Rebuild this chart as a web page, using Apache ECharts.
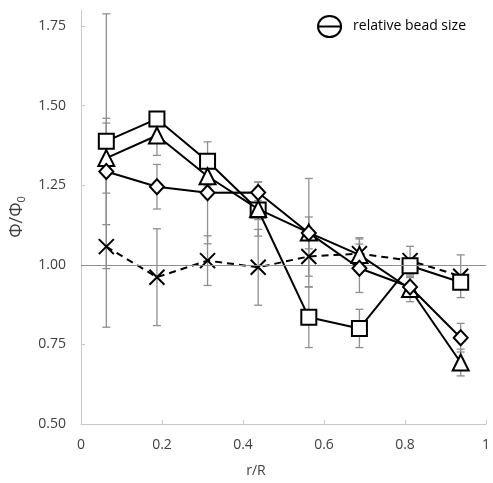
<!DOCTYPE html>
<html>
<head>
<meta charset="utf-8">
<script src="https://cdn.jsdelivr.net/npm/echarts@6/dist/echarts.min.js"></script>
<style>
  html, body { margin: 0; padding: 0; background: #fff; }
  #chart { width: 493px; height: 483px; }
</style>
</head>
<body>
<div id="chart"></div>
<script>
// radial positions (bin centres)
const radius = [0.0625, 0.1875, 0.3125, 0.4375, 0.5625, 0.6875, 0.8125, 0.9375];

// phi / phi0 per bead size
const squareVals   = [1.388, 1.458, 1.325, 1.172, 0.835, 0.800, 0.997, 0.945];
const triangleVals = [1.335, 1.406, 1.278, 1.175, 1.101, 1.031, 0.924, 0.693];
const diamondVals  = [1.293, 1.245, 1.226, 1.227, 1.100, 0.989, 0.930, 0.771];
const crossVals    = [1.057, 0.961, 1.013, 0.992, 1.026, 1.035, 1.013, 0.964];

// +/- error
const squareErr   = [0.40, 0.02, 0.02, 0.03, 0.095, 0.06, 0.02, 0.02];
const triangleErr = [0.11, 0.0625, 0.03, 0.085, 0.17, 0.05, 0.04, 0.042];
const diamondErr  = [0.167, 0.07, 0.16, 0.033, 0.05, 0.076, 0.03, 0.045];
const crossErr    = [0.253, 0.152, 0.078, 0.119, 0.062, 0.05, 0.045, 0.067];

const xTicks = [0, 0.2, 0.4, 0.6, 0.8, 1];
const yTicks = [0.5, 0.75, 1.0, 1.25, 1.5, 1.75];

const font = '"Open Sans", "DejaVu Sans", sans-serif';
const textColor = '#404040';

function pairs(vals) {
  return vals.map((v, i) => [radius[i], v]);
}
function errRows(vals, errs) {
  return vals.map((v, i) => [radius[i], v - errs[i], v + errs[i]]);
}

const errData = []
  .concat(errRows(squareVals, squareErr))
  .concat(errRows(triangleVals, triangleErr))
  .concat(errRows(diamondVals, diamondErr))
  .concat(errRows(crossVals, crossErr));

function renderErr(params, api) {
  const top = api.coord([api.value(0), api.value(2)]);
  const bot = api.coord([api.value(0), api.value(1)]);
  const cap = 4;
  const style = { stroke: '#8f8f8f', lineWidth: 1.3 };
  return {
    type: 'group',
    children: [
      { type: 'line', shape: { x1: top[0], y1: top[1], x2: bot[0], y2: bot[1] }, style: style },
      { type: 'line', shape: { x1: top[0] - cap, y1: top[1], x2: top[0] + cap, y2: top[1] }, style: style },
      { type: 'line', shape: { x1: bot[0] - cap, y1: bot[1], x2: bot[0] + cap, y2: bot[1] }, style: style }
    ]
  };
}

const markerStyle = { color: '#fff', borderColor: '#000', borderWidth: 2 };
const lineStyle = { color: '#000', width: 2 };

const chart = echarts.init(document.getElementById('chart'));

chart.setOption({
  animation: false,
  grid: { left: 81, right: 5, top: 10, bottom: 58 },
  legend: {
    left: 312,
    top: 10,
    itemWidth: 25,
    itemHeight: 21,
    selectedMode: false,
    textStyle: { fontFamily: font, fontSize: 14, color: '#000', padding: [0, 0, 0, 6] },
    itemStyle: { color: 'transparent', borderColor: '#000', borderWidth: 2 },
    data: [{
      name: 'relative bead size',
      icon: 'path://M0,10 A11,10 0 1,1 22,10 A11,10 0 1,1 0,10 Z M0,10 L22,10'
    }]
  },
  xAxis: {
    type: 'value',
    min: 0,
    max: 1,
    interval: 0.2,
    name: 'r/R',
    nameLocation: 'middle',
    nameGap: 40,
    nameTextStyle: { fontFamily: font, fontSize: 14, color: textColor, padding: [0, 55, 0, 0] },
    axisLine: { show: true, onZero: false, lineStyle: { color: '#c8c8c8', width: 1 } },
    axisTick: { show: true, inside: true, length: 4, lineStyle: { color: '#c8c8c8' } },
    axisLabel: {
      fontFamily: font, fontSize: 14, color: textColor, margin: 14,
      formatter: v => String(Math.round(v * 10) / 10)
    },
    splitLine: { show: false }
  },
  yAxis: {
    type: 'value',
    min: 0.5,
    max: 1.8,
    interval: 0.25,
    name: 'Φ/Φ{sub|0}',
    nameLocation: 'middle',
    nameGap: 54,
    nameRotate: 90,
    nameTextStyle: {
      fontFamily: font, fontSize: 18, color: textColor,
      rich: { sub: { fontFamily: font, fontSize: 11, color: textColor, padding: [9, 0, 0, 0] } }
    },
    axisLine: { show: true, lineStyle: { color: '#c8c8c8', width: 1 } },
    axisTick: { show: true, inside: true, length: 4, lineStyle: { color: '#c8c8c8' } },
    axisLabel: {
      fontFamily: font, fontSize: 14, color: textColor, margin: 15,
      showMaxLabel: false,
      formatter: v => yTicks.some(t => Math.abs(t - v) < 1e-6) ? v.toFixed(2) : ''
    },
    splitLine: { show: false }
  },
  series: [
    {
      type: 'custom',
      name: 'errors',
      renderItem: renderErr,
      data: errData,
      encode: { x: 0, y: [1, 2] },
      z: 1,
      silent: true
    },
    {
      type: 'line',
      name: 'unity',
      data: [],
      symbol: 'none',
      markLine: {
        silent: true,
        symbol: 'none',
        label: { show: false },
        lineStyle: { color: '#8f8f8f', width: 1.2, type: 'solid' },
        data: [{ yAxis: 1 }]
      },
      z: 1
    },
    {
      type: 'line',
      name: 'cross',
      data: pairs(crossVals),
      symbol: 'path://M0,0 L10,10 M10,0 L0,10',
      symbolSize: 15,
      itemStyle: { color: 'transparent', borderColor: '#000', borderWidth: 2 },
      lineStyle: { color: '#000', width: 2, type: [7, 5] },
      z: 3
    },
    {
      type: 'line',
      name: 'square',
      data: pairs(squareVals),
      symbol: 'rect',
      symbolSize: 15,
      itemStyle: markerStyle,
      lineStyle: lineStyle,
      z: 4
    },
    {
      type: 'line',
      name: 'triangle',
      data: pairs(triangleVals),
      symbol: 'triangle',
      symbolSize: 16,
      itemStyle: markerStyle,
      lineStyle: lineStyle,
      z: 5
    },
    {
      type: 'line',
      name: 'diamond',
      data: pairs(diamondVals),
      symbol: 'diamond',
      symbolSize: [14, 15],
      itemStyle: markerStyle,
      lineStyle: lineStyle,
      z: 6
    },
    {
      type: 'line',
      name: 'relative bead size',
      data: []
    }
  ]
});
</script>
</body>
</html>
